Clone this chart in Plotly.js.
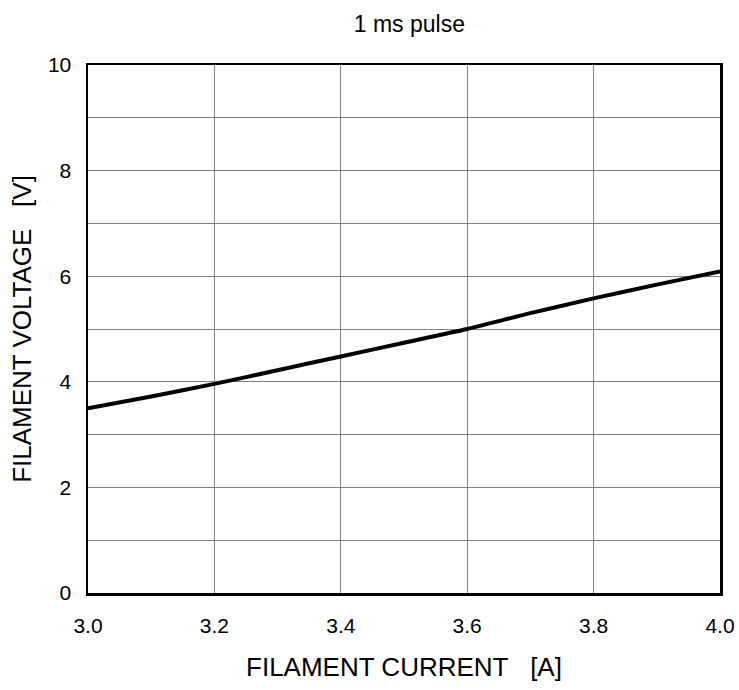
<!DOCTYPE html>
<html>
<head>
<meta charset="utf-8">
<script src="https://cdn.plot.ly/plotly-3.0.1.min.js"></script>
<style>html,body{margin:0;padding:0;background:#fff;}#chart{width:739px;height:690px;}</style>
</head>
<body>
<div id="chart"></div>
<script>
const current = [3.0, 3.1, 3.2, 3.3, 3.4, 3.5, 3.6, 3.7, 3.8, 3.9, 4.0];
const voltage = [3.5, 3.72, 3.96, 4.22, 4.48, 4.74, 5.0, 5.3, 5.58, 5.84, 6.09];
const xTicks = [3.0, 3.2, 3.4, 3.6, 3.8, 4.0];
const yTicks = [0, 2, 4, 6, 8, 10];

const font = "Liberation Sans, Arial, sans-serif";
Plotly.newPlot('chart', [{
  x: current, y: voltage, mode: 'lines', type: 'scatter',
  line: {color: '#000', width: 4, shape: 'spline', smoothing: 0.6},
  hoverinfo: 'skip', showlegend: false
}], {
  width: 739, height: 690,
  margin: {l: 87.5, r: 19, t: 65, b: 97},
  paper_bgcolor: '#fff', plot_bgcolor: '#fff',
  title: {text: '1 ms pulse', font: {family: font, size: 23, color: '#000'}, x: 0.554, xanchor: 'center', y: 0.966, yanchor: 'middle'},
  xaxis: {
    range: [3.0, 4.0], tickvals: xTicks, tickformat: '.1f',
    showgrid: true, gridcolor: '#808080', gridwidth: 1,
    showline: true, linecolor: '#000', linewidth: 2.5, mirror: true,
    zeroline: false, ticks: '', ticklabelstandoff: 12,
    tickfont: {family: font, size: 21, color: '#000'},
    title: {text: 'FILAMENT CURRENT\u00a0\u00a0\u00a0[A]', font: {family: font, size: 26, color: '#000'}, standoff: 22}
  },
  yaxis: {
    range: [0, 10], tickvals: yTicks,
    showgrid: true, gridcolor: '#808080', gridwidth: 1,
    minor: {dtick: 1, showgrid: true, gridcolor: '#808080', gridwidth: 1, ticks: ''},
    showline: true, linecolor: '#000', linewidth: 2.5, mirror: true,
    zeroline: false, ticks: '', ticklabelstandoff: 10,
    tickfont: {family: font, size: 21, color: '#000'},
    title: {text: 'FILAMENT VOLTAGE\u00a0\u00a0\u00a0[V]', font: {family: font, size: 26, color: '#000'}, standoff: 9}
  }
}, {staticPlot: true});
</script>
</body>
</html>
